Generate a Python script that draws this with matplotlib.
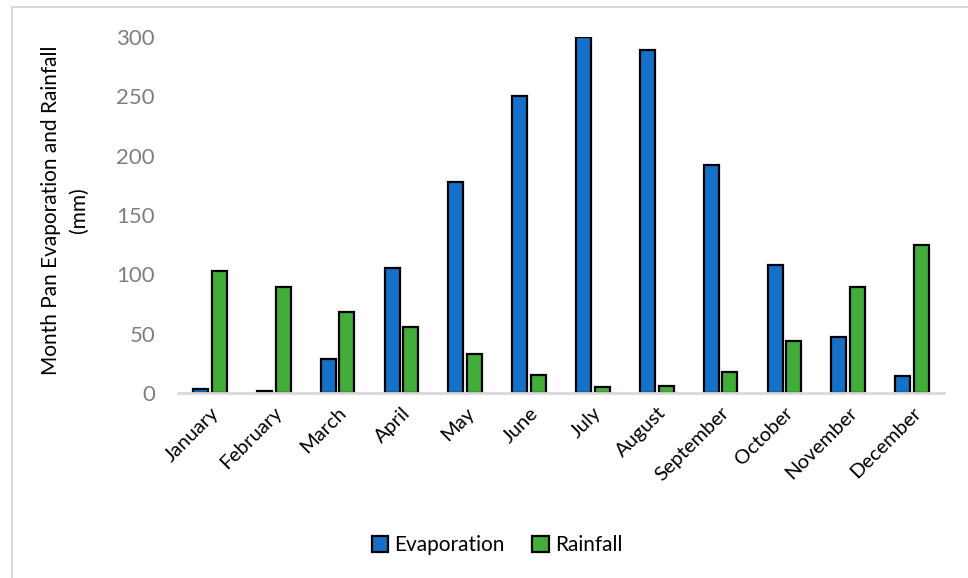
import numpy as np
import matplotlib
matplotlib.use("Agg")
from matplotlib import pyplot as plt
from matplotlib.patches import Rectangle

plt.rcParams['font.family'] = ['Lato', 'DejaVu Sans']

months = ["January", "February", "March", "April", "May", "June",
          "July", "August", "September", "October", "November", "December"]
evaporation = [3, 2, 29, 105, 178, 250, 300, 289, 192, 108, 47, 14]
rainfall = [103, 89, 68, 56, 33, 15, 5, 6, 18, 44, 89, 125]
yticks = [0, 50, 100, 150, 200, 250, 300]

blue = '#1770c8'
green = '#43ad3a'

fig = plt.figure(figsize=(9.68, 5.78), dpi=100)
# light frame round the chart area
fig.patches.append(Rectangle((12/968, -0.1), 1.2, 1 - 7/578 + 0.1,
                             transform=fig.transFigure, fill=False,
                             edgecolor='#d9d9d9', linewidth=1.5))

ax = fig.add_axes([178/968, 1 - 393/578, (944 - 178)/968, (393 - 37)/578])

x = np.arange(len(months))
w = 0.235
off = 0.146
ax.bar(x - off, evaporation, w, color=blue, edgecolor='black', linewidth=1.6,
       label='Evaporation', zorder=3)
ax.bar(x + off, rainfall, w, color=green, edgecolor='black', linewidth=1.6,
       label='Rainfall', zorder=3)

ax.set_xlim(-0.5, len(months) - 0.5)
ax.set_ylim(0, 300)
ax.set_yticks(yticks)
ax.set_yticklabels([str(v) for v in yticks], color='#7f7f7f', fontsize=16)
ax.set_xticks(x)
ax.set_xticklabels(months, rotation=45, ha='right', rotation_mode='anchor',
                   fontsize=14.5)
ax.tick_params(axis='both', length=0)
ax.tick_params(axis='y', pad=16.5)
ax.tick_params(axis='x', pad=8)

for s in ['top', 'right', 'left']:
    ax.spines[s].set_visible(False)
ax.spines['bottom'].set_color('#d9d9d9')
ax.spines['bottom'].set_linewidth(2)
ax.spines['bottom'].set_zorder(4)

fig.text(65/968, 1 - 210/578, "Month Pan Evaporation and Rainfall\n(mm)",
         rotation=90, ha='center', va='center', fontsize=15,
         multialignment='center', linespacing=1.45)

fig.legend(loc='center', bbox_to_anchor=(497/968, 1 - 545/578), ncol=2,
           frameon=False, fontsize=15, handlelength=0.8, handleheight=0.8,
           handletextpad=0.3, columnspacing=1.3)

fig.savefig('out.png', dpi=100)
